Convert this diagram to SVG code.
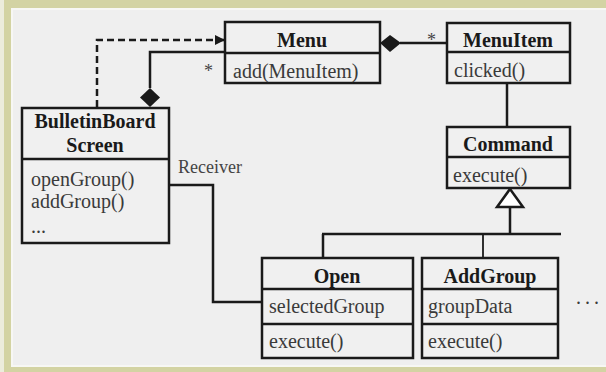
<svg xmlns="http://www.w3.org/2000/svg" width="606" height="372" viewBox="0 0 606 372">
<defs>
<style>
.box{fill:#f0f0f0;stroke:#1a1a1a;stroke-width:2.5}
.div{stroke:#1a1a1a;stroke-width:2.5}
.ln{fill:none;stroke:#1a1a1a;stroke-width:2.5}
.t{font-family:"Liberation Serif","Times New Roman",serif;font-size:20px;fill:#3a3a3a}
.b{font-family:"Liberation Serif","Times New Roman",serif;font-size:20px;font-weight:bold;fill:#1a1a1a;text-anchor:middle}
.s{font-family:"Liberation Serif","Times New Roman",serif;font-size:18px;fill:#444}
</style>
<marker id="arr" viewBox="0 0 10 10" refX="9" refY="5" markerWidth="10" markerHeight="10" markerUnits="userSpaceOnUse" orient="auto">
<path d="M0,0 L10,5 L0,10 Z" fill="#1a1a1a"/>
</marker>
</defs>
<rect x="0" y="0" width="606" height="372" fill="#ececdc"/>
<rect x="4" y="0" width="602" height="372" fill="#d3d3a3"/>
<rect x="11" y="8" width="595" height="359" fill="#f7f7f4"/>
<rect x="13" y="10" width="593" height="355" fill="#efefef"/>

<g id="connectors">
<path class="ln" d="M97,107 V40 H224" stroke-dasharray="7,4" marker-end="url(#arr)"/>
<path class="ln" d="M150,88 V52 H225"/>
<polygon points="150,88 160,97.5 150,107 140,97.5" fill="#1a1a1a"/>
<path class="ln" d="M400,43 H447"/>
<polygon points="380,43 390,35 401,43 390,52" fill="#1a1a1a"/>
<path class="ln" d="M507,83 V127"/>
<path class="ln" d="M510,207 V234 M322,234 H561 M323,234 V258"/>
<path d="M483,234 V258" stroke="#1a1a1a" stroke-width="1.8"/>
<polygon points="510,189 523,207 497,207" fill="#fff" stroke="#1a1a1a" stroke-width="2.5"/>
<path class="ln" d="M169,185 H213 V302 H262"/>
<text class="s" x="204" y="77" font-size="15">*</text>
<text class="s" x="427" y="46" font-size="15">*</text>
<text class="s" x="178" y="173">Receiver</text>
</g>

<g id="Menu">
<rect class="box" x="225" y="22" width="155" height="61"/>
<line class="div" x1="225" y1="53" x2="380" y2="53"/>
<text class="b" x="302" y="47">Menu</text>
<text class="t" x="233" y="78">add(MenuItem)</text>
</g>

<g id="MenuItem">
<rect class="box" x="447" y="23" width="123" height="60"/>
<line class="div" x1="447" y1="52" x2="570" y2="52"/>
<text class="b" x="508" y="47">MenuItem</text>
<text class="t" x="454" y="77">clicked()</text>
</g>

<g id="Command">
<rect class="box" x="447" y="127" width="123" height="61"/>
<line class="div" x1="447" y1="157" x2="570" y2="157"/>
<text class="b" x="508" y="151">Command</text>
<text class="t" x="453" y="182">execute()</text>
</g>

<g id="BulletinBoardScreen">
<rect class="box" x="22" y="108" width="147" height="135"/>
<line class="div" x1="22" y1="159" x2="169" y2="159"/>
<text class="b" x="95" y="128">BulletinBoard</text>
<text class="b" x="95" y="152">Screen</text>
<text class="t" x="31" y="186">openGroup()</text>
<text class="t" x="31" y="208">addGroup()</text>
<text class="t" x="31" y="233" font-size="14" fill="#888">...</text>
</g>

<g id="Open">
<rect class="box" x="262" y="258" width="151" height="100"/>
<line class="div" x1="262" y1="289" x2="413" y2="289"/>
<line class="div" x1="262" y1="324" x2="413" y2="324"/>
<text class="b" x="337" y="283">Open</text>
<text class="t" x="269" y="313">selectedGroup</text>
<text class="t" x="269" y="348">execute()</text>
</g>

<g id="AddGroup">
<rect class="box" x="422" y="258" width="136" height="100"/>
<line class="div" x1="422" y1="289" x2="558" y2="289"/>
<line class="div" x1="422" y1="324" x2="558" y2="324"/>
<text class="b" x="490" y="283">AddGroup</text>
<text class="t" x="428" y="313">groupData</text>
<text class="t" x="428" y="348">execute()</text>
</g>

<text class="t" x="576" y="304" letter-spacing="4">...</text>
</svg>
